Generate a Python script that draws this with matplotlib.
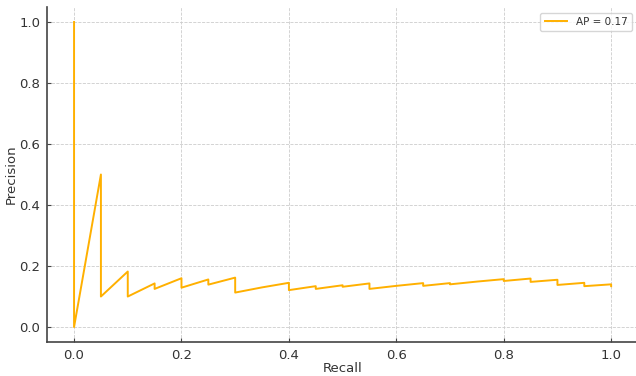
import matplotlib
matplotlib.use("Agg")
import matplotlib.pyplot as plt

# Precision-recall curve points (20 positives, recall steps of 0.05)
recall = [0.0, 0.0, 0.05, 0.05, 0.10, 0.10, 0.15, 0.15, 0.20, 0.20,
          0.25, 0.25, 0.30, 0.30, 0.35, 0.40, 0.40, 0.45, 0.45, 0.50,
          0.50, 0.55, 0.55, 0.60, 0.65, 0.65, 0.70, 0.70, 0.75, 0.80,
          0.80, 0.85, 0.85, 0.90, 0.90, 0.95, 0.95, 1.00, 1.00]
precision = [1.0, 0.0, 0.500, 0.100, 0.182, 0.100, 0.143, 0.125, 0.160, 0.129,
             0.156, 0.139, 0.162, 0.113, 0.130, 0.145, 0.121, 0.134, 0.125, 0.137,
             0.132, 0.143, 0.125, 0.135, 0.144, 0.135, 0.144, 0.140, 0.149, 0.157,
             0.151, 0.159, 0.148, 0.155, 0.138, 0.145, 0.134, 0.140, 0.134]
ap_label = "AP = 0.17"

text_color = "#333333"
plt.rcParams.update({
    "font.family": "DejaVu Sans",
    "axes.edgecolor": "#444444",
    "xtick.color": "#444444",
    "ytick.color": "#444444",
    "xtick.labelcolor": text_color,
    "ytick.labelcolor": text_color,
    "axes.labelcolor": text_color,
})

fig = plt.figure(figsize=(6.36, 3.76), dpi=100)
ax = fig.add_axes([47.2 / 636, (376 - 342.3) / 376, (638 - 47.2) / 636, (342.3 - 6.7) / 376])

ax.plot(recall, precision, color="#FFB000", linewidth=1.4, label=ap_label)

ax.set_xlim(-0.05, 1.05)
ax.set_ylim(-0.05, 1.05)
ax.set_xticks([0.0, 0.2, 0.4, 0.6, 0.8, 1.0])
ax.set_yticks([0.0, 0.2, 0.4, 0.6, 0.8, 1.0])
ax.tick_params(direction="in", length=3, width=0.8, labelsize=9.5, pad=5)

ax.grid(True, linestyle="--", linewidth=0.6, color="#cccccc")
ax.set_axisbelow(True)
for side in ("top", "right"):
    ax.spines[side].set_visible(False)
for side in ("left", "bottom"):
    ax.spines[side].set_linewidth(1.2)

ax.set_xlabel("Recall", fontsize=9.5, labelpad=0)
ax.set_ylabel("Precision", fontsize=9.5, labelpad=1)

leg = ax.legend(loc="upper right", fontsize=7.5, frameon=True, fancybox=True,
                edgecolor="#cccccc", handlelength=2.2, borderaxespad=0.6)
for t in leg.get_texts():
    t.set_color(text_color)

fig.savefig("out.png", dpi=100)
